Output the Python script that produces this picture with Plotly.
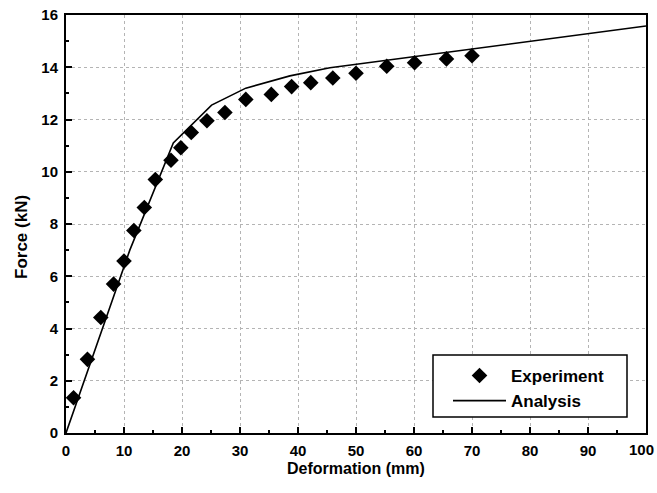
import plotly.graph_objects as go

exp_x = [1.3, 3.7, 6.0, 8.2, 10.0, 11.7, 13.5, 15.4, 18.1, 19.8, 21.6, 24.3, 27.4,
         31.0, 35.4, 38.9, 42.2, 46.0, 50.0, 55.3, 60.1, 65.6, 70.0]
exp_y = [1.35, 2.82, 4.42, 5.70, 6.58, 7.75, 8.63, 9.70, 10.44, 10.92, 11.50, 11.95, 12.27,
         12.77, 12.96, 13.26, 13.41, 13.59, 13.77, 14.04, 14.17, 14.32, 14.44]

ana_x = [0, 11.0, 18.5, 25.1, 31.0, 38.6, 45.5, 100]
ana_y = [0, 7.0, 11.1, 12.55, 13.2, 13.67, 13.98, 15.58]

x_tickvals = [0, 10, 20, 30, 40, 50, 60, 70, 80, 90, 100]
x_ticktext = ["0", "10", "20", "30", "40", "50", "60", "70", "80", "90", "100"]

FONT = "Liberation Sans, Arial, sans-serif"
W, H = 657, 493
ML, MR, MT, MB = 66, 11, 15, 60
PW, PH = W - ML - MR, H - MT - MB

fig = go.Figure()
fig.add_trace(go.Scatter(x=exp_x, y=exp_y, mode="markers", name="Experiment",
                         marker=dict(symbol="diamond", size=12, color="black")))
fig.add_trace(go.Scatter(x=ana_x, y=ana_y, mode="lines", name="Analysis",
                         line=dict(color="black", width=1.6)))

axis_common = dict(
    showline=True, linecolor="black", linewidth=2, mirror=True,
    ticks="inside", ticklen=6, tickwidth=2, tickcolor="black",
    showgrid=True, gridcolor="#b4b4b4", griddash="dot", gridwidth=1,
    zeroline=False, automargin=False, ticklabeloverflow="allow",
    tickfont=dict(family=FONT, size=15, color="black", weight="bold"),
)

def px_x(p):
    return (p - ML) / PW

def px_y(p):
    return (H - MB - p) / PH

# last x tick label is drawn right-aligned to the page edge so it stays whole
shown_text = x_ticktext[:-1] + [""]

fig.update_layout(
    width=W, height=H,
    margin=dict(l=ML, r=MR, t=MT, b=MB, autoexpand=False),
    paper_bgcolor="white", plot_bgcolor="white",
    font=dict(family=FONT, color="black"),
    showlegend=True,
    legend=dict(x=px_x(448), y=px_y(358), xanchor="left", yanchor="top",
                bgcolor="rgba(0,0,0,0)", borderwidth=0,
                font=dict(family=FONT, size=17, color="black", weight="bold"),
                tracegroupgap=0, itemwidth=53),
    xaxis=dict(range=[0, 100], tickmode="array", tickvals=x_tickvals, ticktext=shown_text,
               minor=dict(dtick=5, tick0=0, ticks="inside", ticklen=3, tickcolor="black",
                          tickwidth=2, showgrid=False),
               ticklabelstandoff=3,
               **axis_common),
    yaxis=dict(range=[0, 16], dtick=2, tick0=0,
               minor=dict(dtick=1, ticks="inside", ticklen=3, tickcolor="black",
                          tickwidth=2, showgrid=False),
               ticklabelstandoff=3,
               **axis_common),
    shapes=[dict(type="rect", xref="paper", yref="paper",
                 x0=px_x(433), x1=px_x(627), y0=px_y(417), y1=px_y(355),
                 line=dict(color="black", width=1.5), fillcolor="white", layer="above")],
    annotations=[
        dict(text=x_ticktext[-1], xref="paper", yref="paper",
             x=px_x(W - 1), y=px_y(449), xanchor="right", yanchor="middle",
             showarrow=False, font=dict(family=FONT, size=15, color="black", weight="bold")),
        dict(text="Deformation (mm)", xref="paper", yref="paper",
             x=px_x(356), y=px_y(468), xanchor="center", yanchor="middle",
             showarrow=False, font=dict(family=FONT, size=16, color="black", weight="bold")),
        dict(text="Force (kN)", xref="paper", yref="paper", textangle=-90,
             x=px_x(21), y=px_y(237), xanchor="center", yanchor="middle",
             showarrow=False, font=dict(family=FONT, size=17, color="black", weight="bold")),
    ],
)

fig.write_html("out.html", config={"displayModeBar": False},
               post_script="document.body.style.margin='0';document.body.style.overflow='hidden';")
